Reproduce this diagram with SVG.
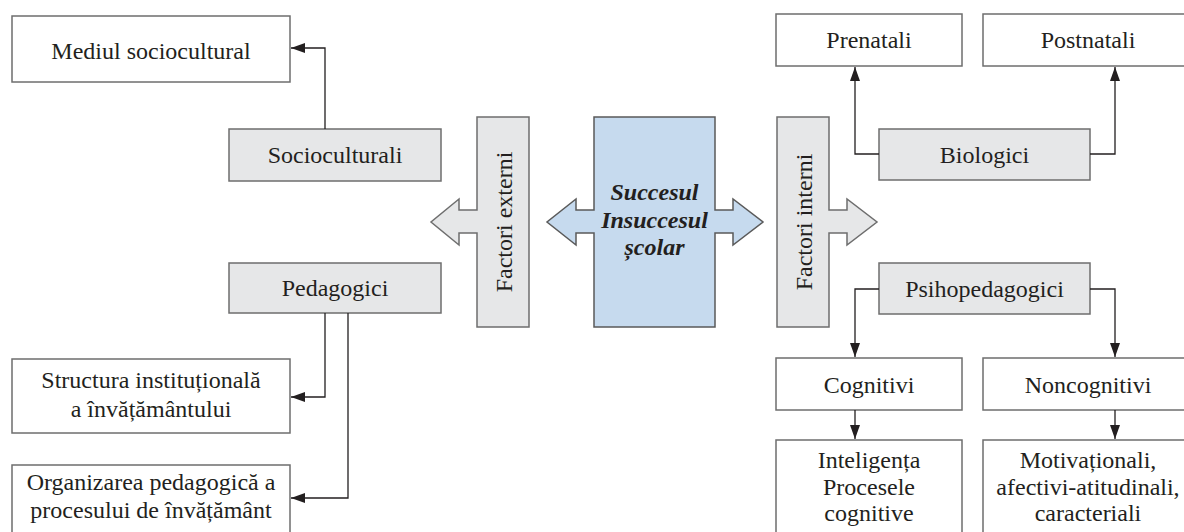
<svg xmlns="http://www.w3.org/2000/svg" width="1184" height="532" viewBox="0 0 1184 532" font-family="Liberation Serif, serif" font-size="24">
  <style>
    .box { fill: #ffffff; stroke: #6e6e6e; stroke-width: 1.5; }
    .cat { fill: #e6e7e8; stroke: #6e6e6e; stroke-width: 1.5; }
    .core { fill: #c6daee; stroke: #5a5a5a; stroke-width: 1.5; }
    text { fill: #231f20; text-anchor: middle; }
    .bi { font-weight: bold; font-style: italic; }
    .link { fill: none; stroke: #231f20; stroke-width: 1.3; }
  </style>
  <defs>
    <marker id="head" viewBox="0 0 14 10" refX="14" refY="5" markerWidth="14" markerHeight="10" markerUnits="userSpaceOnUse" orient="auto">
      <path d="M0,0 L14,5 L0,10 Z" fill="#231f20"/>
    </marker>
  </defs>

  <!-- centre: double arrow block -->
  <g id="core">
    <path class="core" d="M594,117 H715 V210 H733 V199 L763,222 L733,245 V233 H715 V327 H594 V233 H576 V245 L547,222 L576,199 V210 H594 Z"/>
    <text class="bi" x="654.5" y="200">Succesul</text>
    <text class="bi" x="654.5" y="228">Insuccesul</text>
    <text class="bi" x="654.5" y="255">școlar</text>
  </g>

  <!-- external factors bar with arrow to the left -->
  <g id="factori-externi">
    <path class="cat" d="M477,117 H529 V327 H477 V233 H459 V245 L431,222 L459,199 V210 H477 Z"/>
    <text x="512" y="222" transform="rotate(-90 512 222)">Factori externi</text>
  </g>

  <!-- internal factors bar with arrow to the right -->
  <g id="factori-interni">
    <path class="cat" d="M777,117 H829 V210 H847 V199 L877,222 L847,245 V233 H829 V327 H777 Z"/>
    <text x="812" y="222" transform="rotate(-90 812 222)">Factori interni</text>
  </g>

  <!-- left side -->
  <g id="mediul">
    <rect class="box" x="12" y="16" width="278" height="66"/>
    <text x="151" y="59">Mediul sociocultural</text>
  </g>
  <g id="socioculturali">
    <rect class="cat" x="229" y="129" width="212" height="52"/>
    <text x="335" y="163">Socioculturali</text>
  </g>
  <g id="pedagogici">
    <rect class="cat" x="229" y="263" width="212" height="50"/>
    <text x="335" y="296">Pedagogici</text>
  </g>
  <g id="structura">
    <rect class="box" x="12" y="359" width="278" height="74"/>
    <text x="151" y="388">Structura instituțională</text>
    <text x="151" y="417">a învățământului</text>
  </g>
  <g id="organizarea">
    <rect class="box" x="12" y="465" width="278" height="80"/>
    <text x="151" y="490">Organizarea pedagogică a</text>
    <text x="151" y="518">procesului de învățământ</text>
  </g>

  <!-- right side -->
  <g id="prenatali">
    <rect class="box" x="776" y="14" width="186" height="52"/>
    <text x="869" y="48">Prenatali</text>
  </g>
  <g id="postnatali">
    <rect class="box" x="983" y="14" width="212" height="52"/>
    <text x="1088" y="48">Postnatali</text>
  </g>
  <g id="biologici">
    <rect class="cat" x="879" y="129" width="211" height="51"/>
    <text x="984.5" y="163">Biologici</text>
  </g>
  <g id="psihopedagogici">
    <rect class="cat" x="879" y="263" width="211" height="51"/>
    <text x="984.5" y="297">Psihopedagogici</text>
  </g>
  <g id="cognitivi">
    <rect class="box" x="776" y="358" width="186" height="52"/>
    <text x="869" y="393">Cognitivi</text>
  </g>
  <g id="noncognitivi">
    <rect class="box" x="983" y="358" width="212" height="52"/>
    <text x="1088" y="393">Noncognitivi</text>
  </g>
  <g id="inteligenta">
    <rect class="box" x="776" y="440" width="186" height="100"/>
    <text x="869" y="468">Inteligența</text>
    <text x="869" y="495">Procesele</text>
    <text x="869" y="521">cognitive</text>
  </g>
  <g id="motivationali">
    <rect class="box" x="983" y="440" width="212" height="100"/>
    <text x="1088" y="468">Motivaționali,</text>
    <text x="1088" y="495">afectivi-atitudinali,</text>
    <text x="1088" y="521">caracteriali</text>
  </g>

  <!-- connectors -->
  <g id="connectors">
    <path class="link" marker-end="url(#head)" d="M325,129 V48 H291"/>
    <path class="link" marker-end="url(#head)" d="M325,313 V397 H291"/>
    <path class="link" marker-end="url(#head)" d="M348,313 V498 H291"/>
    <path class="link" marker-end="url(#head)" d="M879,154 H855 V67"/>
    <path class="link" marker-end="url(#head)" d="M1090,154 H1115 V67"/>
    <path class="link" marker-end="url(#head)" d="M879,289 H855 V357"/>
    <path class="link" marker-end="url(#head)" d="M1090,289 H1115 V357"/>
    <path class="link" marker-end="url(#head)" d="M855,410 V439"/>
    <path class="link" marker-end="url(#head)" d="M1115,410 V439"/>
  </g>
</svg>
